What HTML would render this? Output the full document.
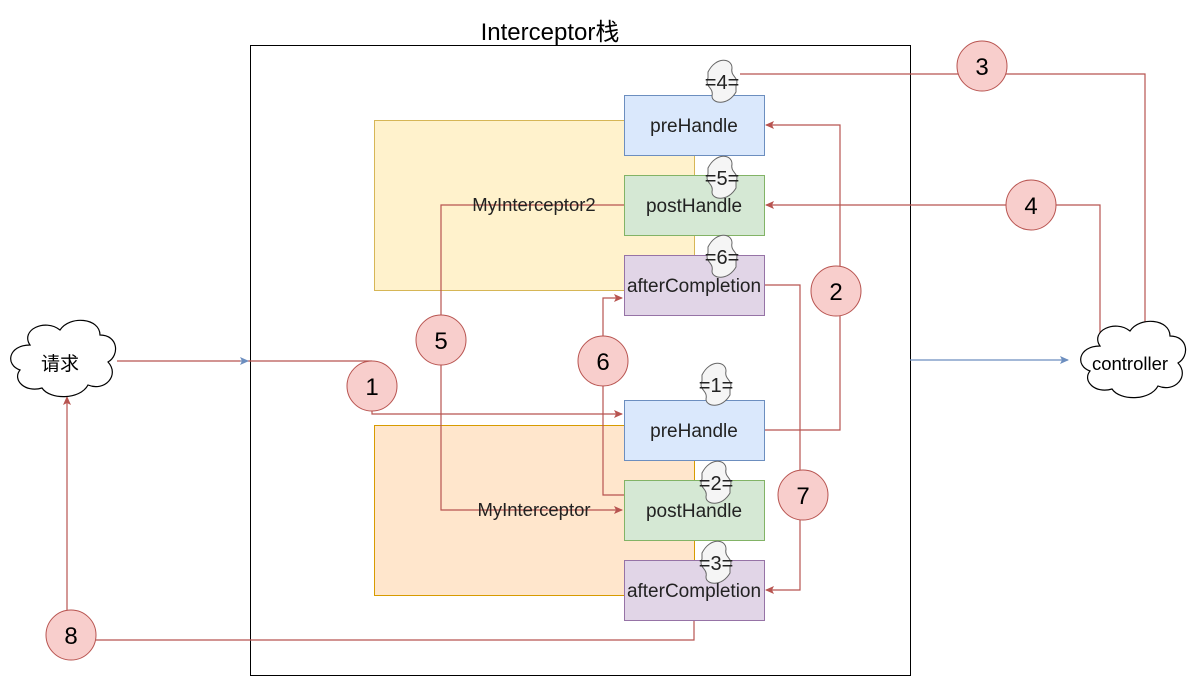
<!DOCTYPE html>
<html><head><meta charset="utf-8"><style>html,body{margin:0;padding:0;background:#fff}svg{display:block}svg text{font-family:"Liberation Sans","Noto Sans CJK SC",sans-serif}</style></head>
<body>
<svg width="1191" height="677" viewBox="0 0 1191 677" xmlns="http://www.w3.org/2000/svg">
<defs>
<marker id="ar" markerWidth="10" markerHeight="10" refX="8" refY="5" orient="auto" markerUnits="userSpaceOnUse"><path d="M0,1 L9,5 L0,9 L2,5 Z" fill="#b85450"/></marker>
<marker id="ab" markerWidth="10" markerHeight="10" refX="8" refY="5" orient="auto" markerUnits="userSpaceOnUse"><path d="M0,1 L9,5 L0,9 L2,5 Z" fill="#6c8ebf"/></marker>
<path id="tp" d="M-14,-10 C-6,-26 10,-24 10,-14 C8,-5 18,-5 14,4 L14,10 C6,24 -10,22 -10,14 C-8,5 -18,5 -14,-4 Z" fill="#f5f5f5" stroke="#666"/>
</defs>
<rect x="250.5" y="45.5" width="660" height="630" fill="#fff" stroke="#000"/>
<text x="550" y="40" font-size="24" text-anchor="middle" fill="#000">Interceptor栈</text>
<rect x="374.5" y="120.5" width="320" height="170" fill="#fff2cc" stroke="#d6b656"/>
<rect x="374.5" y="425.5" width="320" height="170" fill="#ffe6cc" stroke="#d79b00"/>
<g fill="none" stroke="#b85450" stroke-width="1.2">
<polyline points="117,361 372,361"/>
<polyline points="372,411 372,414 622,414" marker-end="url(#ar)"/>
<polyline points="764,430 840,430 840,125 766,125" marker-end="url(#ar)"/>
<polyline points="740,74 1145,74 1145,336" marker-end="url(#ar)"/>
<polyline points="1100,338 1100,205 766,205" marker-end="url(#ar)"/>
<polyline points="624,205 441,205 441,510 622,510" marker-end="url(#ar)"/>
<polyline points="624,495 603,495 603,298 622,298" marker-end="url(#ar)"/>
<polyline points="764,285 800,285 800,590 766,590" marker-end="url(#ar)"/>
<polyline points="694,620 694,640 67,640 67,397" marker-end="url(#ar)"/>
</g>
<line x1="240" y1="361" x2="248" y2="361" stroke="#6c8ebf" marker-end="url(#ab)"/>
<line x1="910" y1="360" x2="1068" y2="360" stroke="#6c8ebf" stroke-width="1.2" marker-end="url(#ab)"/>
<text x="534" y="211" font-size="18.5" text-anchor="middle" fill="#222">MyInterceptor2</text>
<text x="534" y="516" font-size="18.5" text-anchor="middle" fill="#222">MyInterceptor</text>
<g font-size="19" text-anchor="middle" fill="#222">
<rect x="624.5" y="95.5" width="140" height="60" fill="#dae8fc" stroke="#6c8ebf"/>
<rect x="624.5" y="175.5" width="140" height="60" fill="#d5e8d4" stroke="#82b366"/>
<rect x="624.5" y="255.5" width="140" height="60" fill="#e1d5e7" stroke="#9673a6"/>
<rect x="624.5" y="400.5" width="140" height="60" fill="#dae8fc" stroke="#6c8ebf"/>
<rect x="624.5" y="480.5" width="140" height="60" fill="#d5e8d4" stroke="#82b366"/>
<rect x="624.5" y="560.5" width="140" height="60" fill="#e1d5e7" stroke="#9673a6"/>
</g>
<g font-size="20" text-anchor="middle" fill="#222">
<g transform="translate(722,82)"><use href="#tp"/><text x="0" y="7">=4=</text></g>
<g transform="translate(722,178)"><use href="#tp"/><text x="0" y="7">=5=</text></g>
<g transform="translate(722,257)"><use href="#tp"/><text x="0" y="7">=6=</text></g>
<g transform="translate(716,385)"><use href="#tp"/><text x="0" y="7">=1=</text></g>
<g transform="translate(716,483)"><use href="#tp"/><text x="0" y="7">=2=</text></g>
<g transform="translate(716,563)"><use href="#tp"/><text x="0" y="7">=3=</text></g>
</g>
<g font-size="19" text-anchor="middle" fill="#222">
<text x="694" y="132">preHandle</text>
<text x="694" y="212">postHandle</text>
<text x="694" y="292">afterCompletion</text>
<text x="694" y="437">preHandle</text>
<text x="694" y="517">postHandle</text>
<text x="694" y="597">afterCompletion</text>
</g>
<g fill="#f8cecc" stroke="#b85450" stroke-width="1">
<circle cx="982" cy="66" r="25"/><circle cx="1031" cy="205" r="25"/><circle cx="836" cy="291" r="25"/>
<circle cx="441" cy="340" r="25"/><circle cx="603" cy="361" r="25"/><circle cx="372" cy="386" r="25"/>
<circle cx="803" cy="495" r="25"/><circle cx="71" cy="635" r="25"/>
</g>
<g font-size="24" text-anchor="middle" fill="#000">
<text x="982" y="75">3</text><text x="1031" y="214">4</text><text x="836" y="300">2</text>
<text x="441" y="349">5</text><text x="603" y="370">6</text><text x="372" y="395">1</text>
<text x="803" y="504">7</text><text x="71" y="644">8</text>
</g>
<g fill="#fff" stroke="#000" stroke-width="1.2">
<path d="M30,345 C20,330 45,318 60,330 C70,315 100,318 100,335 C118,335 120,355 108,362 C120,375 105,392 88,385 C80,400 50,400 42,388 C25,393 12,380 20,370 C5,365 8,345 30,345 Z"/>
<path d="M1100,346 C1090,331 1115,319 1130,331 C1140,316 1170,319 1170,336 C1188,336 1190,356 1178,363 C1190,376 1175,393 1158,386 C1150,401 1120,401 1112,389 C1095,394 1082,381 1090,371 C1075,366 1078,346 1100,346 Z"/>
</g>
<text x="60" y="370" font-size="19" text-anchor="middle" fill="#000">请求</text>
<text x="1130" y="370" font-size="18.5" text-anchor="middle" fill="#000">controller</text>
</svg>
</body></html>
